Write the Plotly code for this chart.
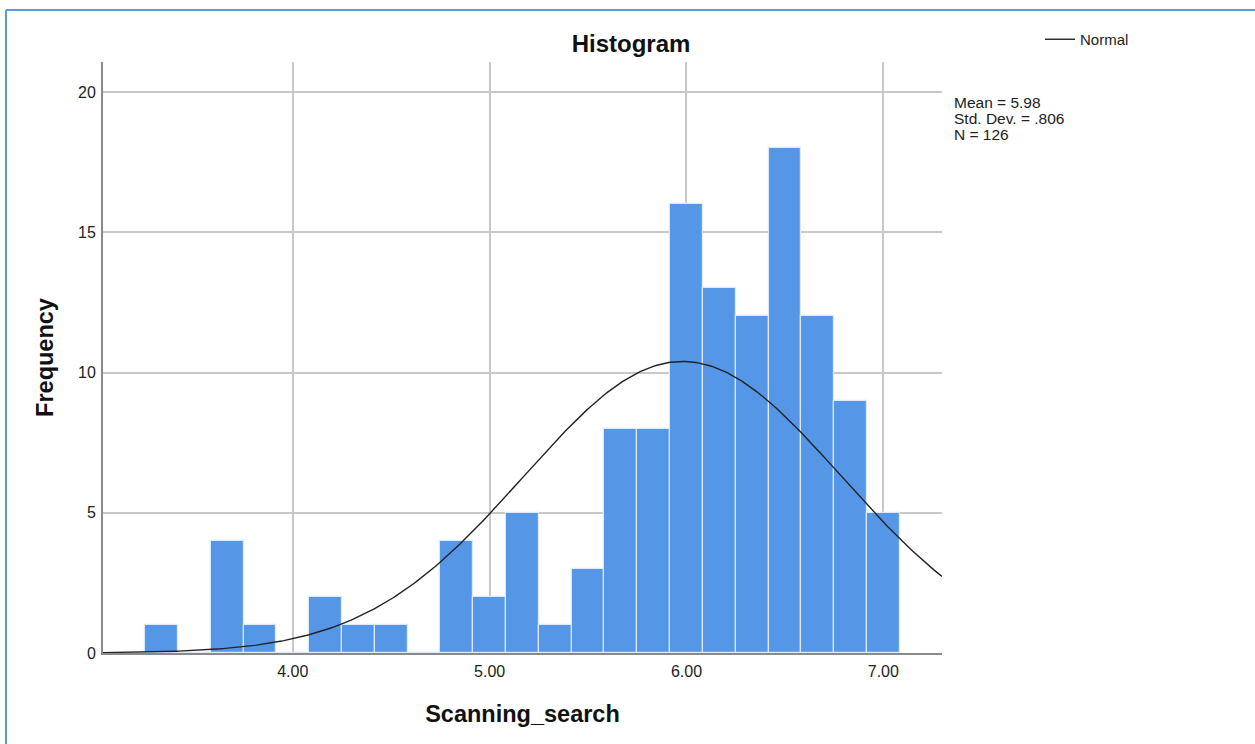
import numpy as np
import plotly.graph_objects as go

# ---- data ----
bin_centers = [3 + k / 6 for k in range(2, 25)]  # 3.333 ... 7.000, bin width 1/6
counts = [1, 0, 4, 1, 0, 2, 1, 1, 0, 4, 2, 5, 1, 3, 8, 8, 16, 13, 12, 18, 12, 9, 5]
bin_width = 1 / 6
mean_val = 5.98
std_val = 0.806
n_val = 126
x_ticks = [4, 5, 6, 7]
y_ticks = [0, 5, 10, 15, 20]
stats_lines = ["Mean = 5.98", "Std. Dev. = .806", "N = 126"]

x_range = [3.036, 7.298]
y_range = [0, 21.07]

FONT = "Liberation Sans, Arial, sans-serif"

# normal curve from the summary statistics, scaled to counts
xc = np.linspace(x_range[0], x_range[1], 400)
yc = n_val * bin_width / (std_val * np.sqrt(2 * np.pi)) * np.exp(-0.5 * ((xc - mean_val) / std_val) ** 2)

fig = go.Figure()
fig.add_trace(go.Bar(
    x=bin_centers, y=counts, width=bin_width,
    marker=dict(color="#5596e6", line=dict(color="#dce9fb", width=1.2)),
    showlegend=False, hoverinfo="x+y",
))
fig.add_trace(go.Scatter(
    x=xc, y=yc, mode="lines", name="Normal",
    line=dict(color="#222222", width=1.4), showlegend=True,
))

L, R, T, B = 103, 313, 62, 91
W, H = 1255, 744
pw = W - L - R
ph = H - T - B

def px_x(px):
    return (px - L) / pw

def px_y(py):
    return (H - B - py) / ph

fig.update_layout(
    width=W, height=H,
    margin=dict(l=L, r=R, t=T, b=B, pad=0),
    paper_bgcolor="white", plot_bgcolor="white",
    font=dict(family=FONT, color="#222222", size=15),
    bargap=0,
    title=dict(text="<b>Histogram</b>", x=631 / W, xref="container", xanchor="center",
               y=1 - 44 / H, yref="container", yanchor="middle",
               font=dict(size=24, family=FONT, color="#111111")),
    xaxis=dict(
        range=x_range, tickvals=x_ticks, tickformat=".2f",
        showgrid=True, gridcolor="#c8c8c8", gridwidth=1.5,
        showline=True, linecolor="#8a8a8a", linewidth=2,
        ticks="", zeroline=False, tickfont=dict(size=16, color="#222222"),
        ticklabelstandoff=3,
        title=dict(text="<b>Scanning_search</b>", font=dict(size=23.5, family=FONT, color="#111111"), standoff=26),
    ),
    yaxis=dict(
        range=y_range, tickvals=y_ticks,
        showgrid=True, gridcolor="#c8c8c8", gridwidth=1.5,
        showline=True, linecolor="#8a8a8a", linewidth=2,
        ticks="", zeroline=False, tickfont=dict(size=16, color="#222222"),
        ticklabelstandoff=2,
        title=dict(text="<b>Frequency</b>", font=dict(size=23.5, family=FONT, color="#111111"), standoff=18),
    ),
    legend=dict(x=px_x(1040), y=px_y(23), xanchor="left", yanchor="top",
                bgcolor="rgba(0,0,0,0)", font=dict(size=15, family=FONT, color="#222222"),
                itemwidth=30),
)

for i, line in enumerate(stats_lines):
    fig.add_annotation(
        text=line, xref="paper", yref="paper",
        x=px_x(952), y=px_y(102 + 16.3 * i), xanchor="left", yanchor="middle",
        showarrow=False, font=dict(size=15.5, family=FONT, color="#222222"),
    )

# thin blue frame (top and left edges) as in the reference
fig.add_shape(type="line", xref="paper", yref="paper",
              x0=px_x(6), x1=px_x(W + 5), y0=px_y(10), y1=px_y(10),
              line=dict(color="#5b9bd5", width=2))
fig.add_shape(type="line", xref="paper", yref="paper",
              x0=px_x(6), x1=px_x(6), y0=px_y(10), y1=px_y(H + 5),
              line=dict(color="#5b9bd5", width=2))

# remove the default page margin so the figure sits at the window's top-left corner
fig.write_html(
    "out.html",
    config={"displayModeBar": False},
    post_script="document.body.style.margin='0px';document.body.style.overflow='hidden';",
)
